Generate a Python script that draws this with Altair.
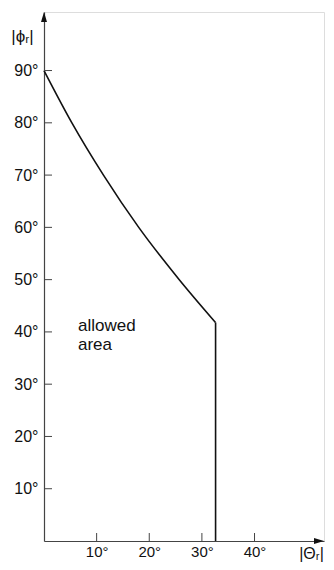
import altair as alt
import pandas as pd

# curve |phi_r| versus |theta_r| (degrees)
theta_curve = [0.0, 5.3, 11.3, 18.0, 25.7, 32.6]
phi_curve = [90.0, 80.0, 70.0, 60.0, 50.0, 41.8]
# vertical boundary
theta_edge = [32.6, 32.6]
phi_edge = [41.8, 0.0]

x_ticks = [10, 20, 30, 40]
y_ticks = [10, 20, 30, 40, 50, 60, 70, 80, 90]
x_max = 53.2
y_max = 101.2

label_x = [6.45]
label_y = [42.7]
label_text = [["allowed", "area"]]

W, H = 280, 529
FONT = "Liberation Sans"
INK = "#111111"
AX = "#444444"

curve = pd.DataFrame({"t": theta_curve, "p": phi_curve})
edge = pd.DataFrame({"t": theta_edge, "p": phi_edge})
xt = pd.DataFrame({"t": x_ticks})
yt = pd.DataFrame({"p": y_ticks})
lab = pd.DataFrame({"t": label_x, "p": label_y, "txt": label_text})
arrow_y = pd.DataFrame({"t": [0.0], "p": [y_max]})
arrow_x = pd.DataFrame({"t": [x_max], "p": [0.0]})

xscale = alt.Scale(domain=[0, x_max], nice=False, zero=True)
yscale = alt.Scale(domain=[0, y_max], nice=False, zero=True)

xaxis = alt.Axis(values=x_ticks, labelExpr="datum.value + '°'", ticks=False,
                 grid=False, domainColor=AX, domainWidth=1.2, labelFont=FONT,
                 labelFontSize=15, labelColor=INK, labelPadding=3,
                 title="|Θᵣ|", titleFont=FONT, titleFontSize=16, titleFontWeight="normal",
                 titleColor=INK, titleX=267, titleY=12, titleAlign="center",
                 titleBaseline="middle", titleAngle=0)
yaxis = alt.Axis(values=y_ticks, labelExpr="datum.value + '°'", ticks=False,
                 grid=False, domainColor=AX, domainWidth=1.2, labelFont=FONT,
                 labelFontSize=16, labelColor=INK, labelPadding=6,
                 title="|ϕᵣ|", titleFont=FONT, titleFontSize=17, titleFontWeight="normal",
                 titleColor=INK, titleX=-22, titleY=24, titleAlign="center",
                 titleBaseline="middle", titleAngle=0)

base_line = alt.Chart(curve).mark_line(color=INK, strokeWidth=1.6, interpolate="monotone").encode(
    x=alt.X("t:Q", scale=xscale, axis=xaxis),
    y=alt.Y("p:Q", scale=yscale, axis=yaxis),
    order="t:Q",
)
edge_line = alt.Chart(edge).mark_line(color=INK, strokeWidth=1.6).encode(
    x=alt.X("t:Q", scale=xscale), y=alt.Y("p:Q", scale=yscale),
    order=alt.Order("p:Q", sort="descending")
)
ytick_marks = alt.Chart(yt).mark_rule(color=AX, strokeWidth=1).encode(
    y=alt.Y("p:Q", scale=yscale), x=alt.value(0), x2=alt.value(8)
)
xtick_marks = alt.Chart(xt).mark_rule(color=AX, strokeWidth=1).encode(
    x=alt.X("t:Q", scale=xscale), y=alt.value(H), y2=alt.value(H - 8)
)
text = alt.Chart(lab).mark_text(font=FONT, fontSize=17, align="left", baseline="top",
                                lineHeight=19, color=INK).encode(
    x=alt.X("t:Q", scale=xscale), y=alt.Y("p:Q", scale=yscale), text="txt"
)
ay = alt.Chart(arrow_y).mark_point(shape="M0,0L-0.3,1L0.3,1Z", size=400, filled=True,
                                    color=INK, opacity=1).encode(
    x=alt.X("t:Q", scale=xscale), y=alt.Y("p:Q", scale=yscale)
)
ax = alt.Chart(arrow_x).mark_point(shape="M0,0L-1,-0.3L-1,0.3Z", size=400, filled=True,
                                    color=INK, opacity=1).encode(
    x=alt.X("t:Q", scale=xscale), y=alt.Y("p:Q", scale=yscale)
)

chart = alt.layer(base_line, edge_line, ytick_marks, xtick_marks, text, ay, ax).properties(
    width=W, height=H,
    autosize=alt.AutoSizeParams(type="none"),
    padding={"left": 36, "top": 4, "right": 2, "bottom": 21},
).configure_view(stroke=None).configure(background="white")

chart.save("out.html", embed_options={"renderer": "svg", "actions": False})
